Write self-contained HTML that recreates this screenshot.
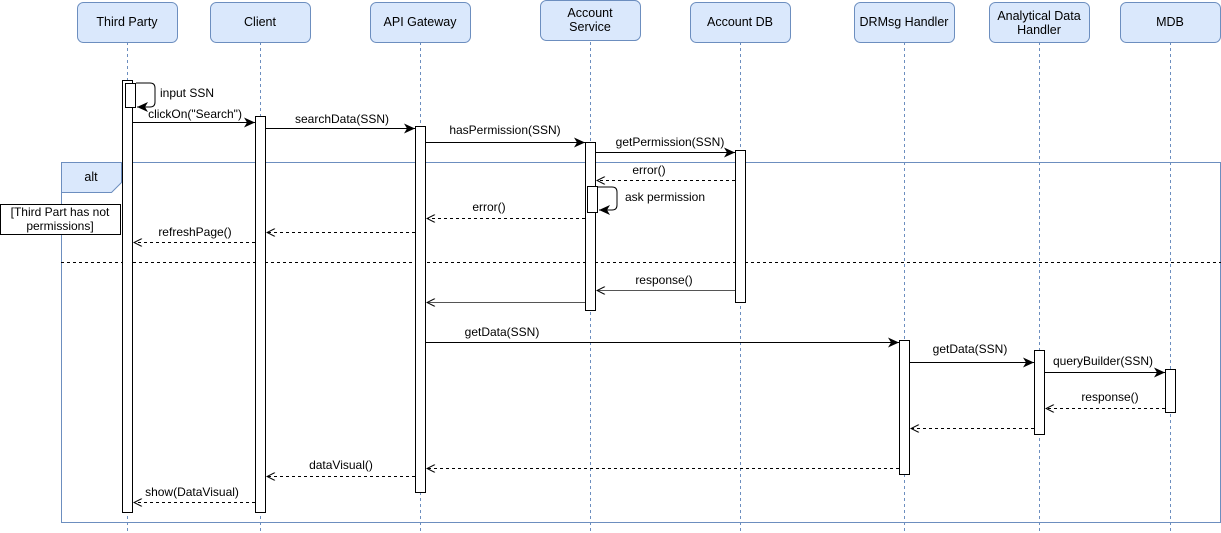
<!DOCTYPE html>
<html><head><meta charset="utf-8"><style>
html,body{margin:0;padding:0;background:#fff;}
svg{display:block;font-family:"Liberation Sans",Arial,sans-serif;}
</style></head><body>
<svg width="1221" height="533" viewBox="0 0 1221 533" xmlns="http://www.w3.org/2000/svg">
<defs>
<marker id="f" markerWidth="12" markerHeight="10" refX="11" refY="5" orient="auto" markerUnits="userSpaceOnUse"><path d="M0,0 L11,5 L0,10 L3,5 Z" fill="#000"/></marker>
<marker id="o" markerWidth="10" markerHeight="8" refX="9" refY="4" orient="auto" markerUnits="userSpaceOnUse"><path d="M1,0 L9,4 L1,8" fill="none" stroke="#000" stroke-width="1"/></marker>
</defs>
<g stroke="#6c8ebf" stroke-dasharray="3,3" stroke-width="1">
<line x1="127.5" y1="42" x2="127.5" y2="533"/><line x1="260.5" y1="42" x2="260.5" y2="533"/>
<line x1="420.5" y1="42" x2="420.5" y2="533"/><line x1="590.5" y1="42" x2="590.5" y2="533"/>
<line x1="740.5" y1="42" x2="740.5" y2="533"/><line x1="904.5" y1="42" x2="904.5" y2="533"/>
<line x1="1039.5" y1="42" x2="1039.5" y2="533"/><line x1="1170.5" y1="42" x2="1170.5" y2="533"/>
</g>
<g fill="#dae8fc" stroke="#6c8ebf">
<rect x="77.5" y="2.5" width="100" height="40" rx="6"/><rect x="210.5" y="2.5" width="100" height="40" rx="6"/>
<rect x="370.5" y="2.5" width="100" height="40" rx="6"/><rect x="540.5" y="0.5" width="100" height="40" rx="6"/>
<rect x="690.5" y="2.5" width="100" height="40" rx="6"/><rect x="854.5" y="2.5" width="100" height="40" rx="6"/>
<rect x="989.5" y="2.5" width="100" height="40" rx="6"/><rect x="1120.5" y="2.5" width="100" height="40" rx="6"/>
</g>
<g font-size="12.5" text-anchor="middle" fill="#000">
<text x="127" y="26">Third Party</text><text x="260" y="26">Client</text><text x="420" y="26">API Gateway</text>
<text x="590" y="17">Account</text><text x="590" y="31">Service</text><text x="740" y="26">Account DB</text>
<text x="904" y="26">DRMsg Handler</text><text x="1039" y="20">Analytical Data</text><text x="1039" y="34">Handler</text>
<text x="1170" y="26">MDB</text>
</g>
<rect x="61.5" y="162.5" width="1159" height="360" fill="none" stroke="#6c8ebf"/>
<path d="M61.5,162.5 H121.5 V182.5 L111.5,192.5 H61.5 Z" fill="#dae8fc" stroke="#6c8ebf"/>
<text x="91" y="181" font-size="12.5" text-anchor="middle">alt</text>
<line x1="61" y1="262.5" x2="1221" y2="262.5" stroke="#000" stroke-dasharray="3,3"/>
<rect x="0.5" y="204.5" width="120" height="30" fill="#fff" stroke="#000"/>
<text x="60" y="216" font-size="12" text-anchor="middle">[Third Part has not</text>
<text x="60" y="230" font-size="12" text-anchor="middle">permissions]</text>
<g fill="#fff" stroke="#000">
<rect x="122.5" y="80.5" width="10" height="432"/><rect x="125.5" y="83.5" width="10" height="24"/>
<rect x="255.5" y="116.5" width="10" height="396"/><rect x="415.5" y="126.5" width="10" height="366"/>
<rect x="585.5" y="142.5" width="10" height="168"/><rect x="587.5" y="186.5" width="10" height="26"/>
<rect x="735.5" y="150.5" width="10" height="152"/><rect x="899.5" y="340.5" width="10" height="134"/>
<rect x="1034.5" y="350.5" width="10" height="84"/><rect x="1165.5" y="369.5" width="10" height="43"/>
</g>
<g stroke="#000" fill="none">
<path d="M136,83 H150 Q155,83 155,88 V102 Q155,107 150,107 H137" marker-end="url(#f)"/>
<path d="M598,187 H612 Q617,187 617,192 V205 Q617,210 612,210 H599" marker-end="url(#f)"/>
<line x1="133" y1="122.5" x2="255" y2="122.5" marker-end="url(#f)"/>
<line x1="266" y1="128.5" x2="415" y2="128.5" marker-end="url(#f)"/>
<line x1="426" y1="142.5" x2="585" y2="142.5" marker-end="url(#f)"/>
<line x1="596" y1="152.5" x2="735" y2="152.5" marker-end="url(#f)"/>
<line x1="426" y1="342.5" x2="899" y2="342.5" marker-end="url(#f)"/>
<line x1="910" y1="362.5" x2="1034" y2="362.5" marker-end="url(#f)"/>
<line x1="1045" y1="372.5" x2="1165" y2="372.5" marker-end="url(#f)"/>
<g stroke-dasharray="3,3">
<line x1="735" y1="180.5" x2="597" y2="180.5" marker-end="url(#o)"/>
<line x1="585" y1="218.5" x2="427" y2="218.5" marker-end="url(#o)"/>
<line x1="415" y1="232.5" x2="267" y2="232.5" marker-end="url(#o)"/>
<line x1="255" y1="242.5" x2="134" y2="242.5" marker-end="url(#o)"/>
<line x1="1165" y1="408.5" x2="1046" y2="408.5" marker-end="url(#o)"/>
<line x1="1034" y1="428.5" x2="911" y2="428.5" marker-end="url(#o)"/>
<line x1="899" y1="468.5" x2="427" y2="468.5" marker-end="url(#o)"/>
<line x1="415" y1="476.5" x2="267" y2="476.5" marker-end="url(#o)"/>
<line x1="255" y1="502.5" x2="134" y2="502.5" marker-end="url(#o)"/>
</g>
<g stroke="#555">
<line x1="735" y1="290.5" x2="597" y2="290.5" marker-end="url(#o)"/>
<line x1="585" y1="302.5" x2="427" y2="302.5" marker-end="url(#o)"/>
</g>
</g>
<g font-size="12" fill="#000" text-anchor="middle">
<text x="187" y="97">input SSN</text>
<text x="195" y="118">clickOn("Search")</text>
<text x="342" y="123">searchData(SSN)</text>
<text x="505" y="134">hasPermission(SSN)</text>
<text x="670" y="146">getPermission(SSN)</text>
<text x="649" y="174">error()</text>
<text x="665" y="201">ask permission</text>
<text x="489" y="211">error()</text>
<text x="195" y="236">refreshPage()</text>
<text x="664" y="284">response()</text>
<text x="502" y="336">getData(SSN)</text>
<text x="970" y="353">getData(SSN)</text>
<text x="1103" y="365">queryBuilder(SSN)</text>
<text x="1110" y="401">response()</text>
<text x="341" y="469">dataVisual()</text>
<text x="192" y="496">show(DataVisual)</text>
</g>
</svg>
</body></html>
